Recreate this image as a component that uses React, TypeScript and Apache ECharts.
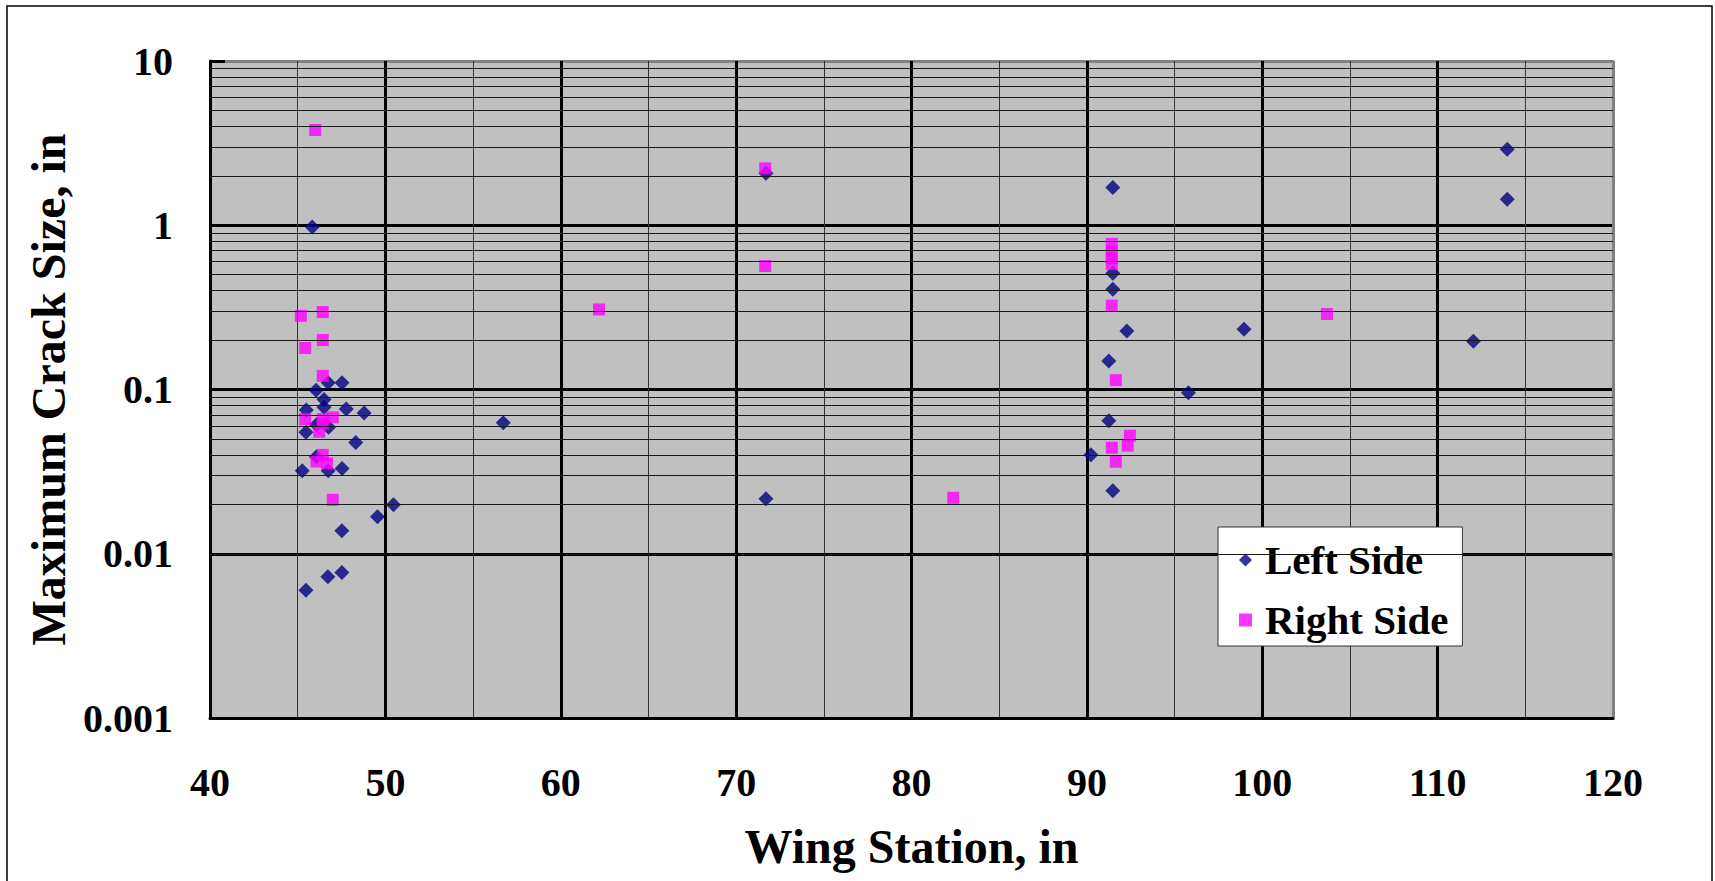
import React, { useEffect, useRef } from "react";
import * as echarts from "echarts";

const xTickLabels = ["40", "50", "60", "70", "80", "90", "100", "110", "120"];
const yTickLabels = ["0.001", "0.01", "0.1", "1", "10"];

const leftX = [45.83, 46.74, 47.53, 46.05, 46.5, 46.5, 45.49, 47.77, 48.79, 46.07, 46.76, 45.47, 48.31, 46.07, 45.26, 46.74, 47.53, 50.46, 49.55, 47.52, 47.52, 46.72, 45.47, 56.72, 71.7, 71.7, 91.48, 91.48, 91.48, 92.28, 98.96, 91.25, 95.79, 91.25, 90.23, 91.48, 113.97, 113.97, 112.04];
const leftY = [0.976, 0.11, 0.11, 0.099, 0.087, 0.078, 0.075, 0.076, 0.072, 0.061, 0.059, 0.055, 0.0475, 0.039, 0.032, 0.032, 0.033, 0.0199, 0.0168, 0.0138, 0.0077, 0.00725, 0.006, 0.0628, 2.07, 0.0216, 1.7, 0.51, 0.407, 0.227, 0.233, 0.149, 0.0957, 0.0646, 0.04, 0.0242, 2.9, 1.44, 0.197];

const rightX = [46.0, 45.18, 46.43, 45.43, 46.43, 46.43, 45.43, 46.43, 47.0, 46.43, 46.23, 46.07, 46.43, 46.68, 47.0, 62.18, 71.66, 71.66, 82.38, 91.42, 91.42, 91.42, 91.42, 91.42, 91.65, 92.45, 92.33, 91.42, 91.65, 103.69];
const rightY = [3.8, 0.281, 0.296, 0.179, 0.2, 0.121, 0.066, 0.066, 0.0677, 0.062, 0.0553, 0.0364, 0.04, 0.0355, 0.0213, 0.307, 2.22, 0.565, 0.0219, 0.77, 0.69, 0.63, 0.58, 0.324, 0.114, 0.0523, 0.0455, 0.0442, 0.0363, 0.288];

const minorMantissas = [2, 3, 4, 5, 6, 7, 8, 9];
const decades = [0.001, 0.01, 0.1, 1];

const FONT = "'Liberation Serif', 'Times New Roman', serif";

export default function App() {
  const ref = useRef<HTMLDivElement>(null);
  useEffect(() => {
    document.body.style.margin = "0";
    const chart = echarts.init(ref.current!, undefined, { renderer: "svg" });
    const minorLines: any[] = [];
    decades.forEach((d) => minorMantissas.forEach((m) => minorLines.push({ yAxis: +(d * m).toPrecision(3) })));
    chart.setOption({
      animation: false,
      backgroundColor: "#ffffff",
      textStyle: { fontFamily: FONT },
      graphic: [
        {
          type: "rect",
          shape: { x: 7, y: 6, width: 1705, height: 890 },
          style: { fill: "none", stroke: "#000", lineWidth: 1.5 },
          silent: true,
          z: -10,
        },
      ],
      grid: {
        left: 210,
        top: 61,
        right: 102,
        bottom: 163,
        show: true,
        backgroundColor: "#C0C0C0",
        borderColor: "#808080",
        borderWidth: 2,
      },
      legend: {
        orient: "vertical",
        left: 1218,
        top: 527,
        backgroundColor: "#ffffff",
        borderColor: "#333",
        borderWidth: 1,
        padding: [12, 14, 5, 21],
        itemWidth: 13,
        itemHeight: 13,
        itemGap: 18,
        data: [
          { name: "Left Side", icon: "diamond" },
          { name: "Right Side", icon: "rect" },
        ],
        textStyle: {
          fontFamily: FONT,
          fontWeight: "bold",
          fontSize: 41,
          lineHeight: 42,
          color: "#000",
          padding: [0, 0, 0, 8],
        },
      },
      xAxis: {
        type: "value",
        min: 40,
        max: 120,
        interval: 10,
        name: "Wing Station, in",
        nameLocation: "middle",
        nameGap: 104,
        nameTextStyle: { fontFamily: FONT, fontWeight: "bold", fontSize: 48, color: "#000" },
        axisLine: { show: true, lineStyle: { color: "#000", width: 3 } },
        axisTick: { show: false },
        axisLabel: {
          margin: 44,
          fontFamily: FONT,
          fontWeight: "bold",
          fontSize: 40,
          color: "#000",
          formatter: (v: number) => xTickLabels[Math.round((v - 40) / 10)] ?? "",
        },
        splitLine: {
          show: true,
          lineStyle: { color: ["#000", "#000", "#000", "#000", "#000", "#000", "#000", "#000", "#808080"], width: 3 },
        },
        minorTick: { show: false, splitNumber: 2 },
        minorSplitLine: { show: true, lineStyle: { color: "#333", width: 1 } },
      },
      yAxis: {
        type: "log",
        logBase: 10,
        min: 0.001,
        max: 10,
        name: "Maximum Crack Size, in",
        nameLocation: "middle",
        nameGap: 134,
        nameTextStyle: { fontFamily: FONT, fontWeight: "bold", fontSize: 48, color: "#000" },
        axisLine: { show: true, lineStyle: { color: "#000", width: 3 } },
        axisTick: { show: true, inside: true, length: 15, lineStyle: { color: "#000", width: 3 } },
        axisLabel: {
          margin: 37,
          fontFamily: FONT,
          fontWeight: "bold",
          fontSize: 40,
          color: "#000",
          formatter: (v: number) => yTickLabels[Math.round(Math.log10(v)) + 3] ?? "",
        },
        splitLine: {
          show: true,
          lineStyle: { color: ["#000", "#000", "#000", "#000", "#808080"], width: 3 },
        },
      },
      series: [
        {
          name: "gridlines",
          type: "line",
          data: [],
          z: 1,
          silent: true,
          markLine: {
            silent: true,
            symbol: ["none", "none"],
            label: { show: false },
            lineStyle: { color: "#1a1a1a", width: 1, type: "solid" },
            data: minorLines,
          },
        },
        {
          name: "Left Side",
          type: "scatter",
          symbol: "diamond",
          symbolSize: 15,
          z: 3,
          itemStyle: { color: "#000080" },
          data: leftX.map((x, i) => [x, leftY[i]]),
        },
        {
          name: "Right Side",
          type: "scatter",
          symbol: "rect",
          symbolSize: 12,
          z: 4,
          itemStyle: { color: "#FF00FF" },
          data: rightX.map((x, i) => [x, rightY[i]]),
        },
      ],
    });
    return () => chart.dispose();
  }, []);
  return <div ref={ref} style={{ width: 1715, height: 881 }} />;
}
